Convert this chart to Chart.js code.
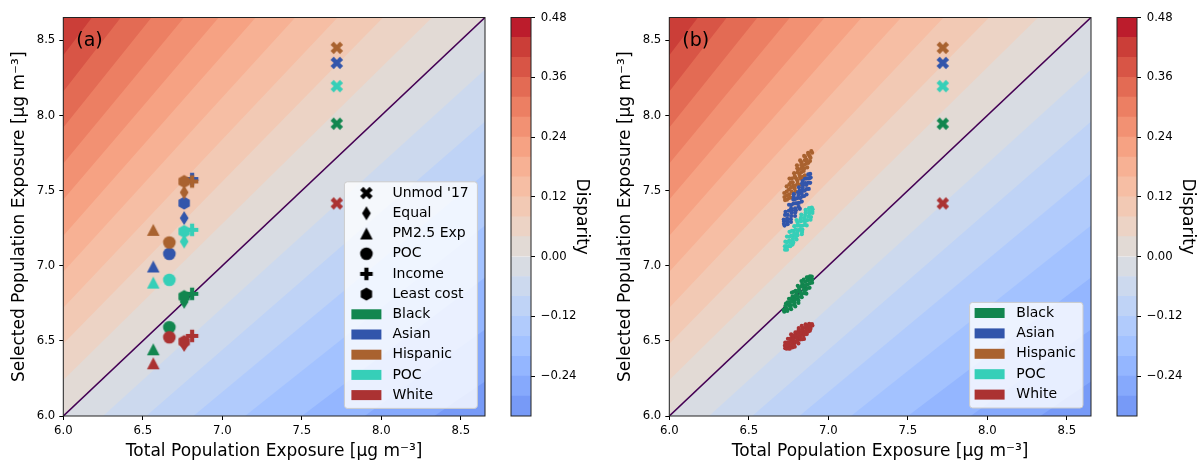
<!DOCTYPE html>
<html>
<head>
<meta charset="utf-8">
<title>Population exposure disparity</title>
<script src="https://cdn.jsdelivr.net/npm/chart.js@4.4.1/dist/chart.umd.min.js"></script>
<style>
  html, body { margin: 0; padding: 0; background: #fff; }
  .panel { position: absolute; top: 0; height: 464px; }
</style>
</head>
<body>
<div class="panel" style="left:0px;width:500px"><canvas id="scatter-a"></canvas></div>
<div class="panel" style="left:500px;width:92px"><canvas id="cbar-a"></canvas></div>
<div class="panel" style="left:606px;width:500px"><canvas id="scatter-b"></canvas></div>
<div class="panel" style="left:1106px;width:92px"><canvas id="cbar-b"></canvas></div>
<script>
// ---- data ----
const groups = ['Black', 'Asian', 'Hispanic', 'POC', 'White'];
const scenarios = ["Unmod '17", 'Equal', 'PM2.5 Exp', 'POC', 'Income', 'Least cost'];

// total population exposure per scenario (x axis), shared by all groups
const totalExposure = [7.72, 6.76, 6.566, 6.667, 6.81, 6.76];
// selected population exposure per scenario (y axis)
const selBlack    = [7.945, 6.76, 6.444, 6.591, 6.813, 6.795];
const selAsian    = [8.35, 7.317, 6.995, 7.079, 7.577, 7.417];
const selHispanic = [8.45, 7.488, 7.239, 7.155, 7.561, 7.561];
const selPOC      = [8.195, 7.161, 6.888, 6.906, 7.239, 7.228];
const selWhite    = [7.415, 6.473, 6.351, 6.524, 6.533, 6.495];

// panel (b) sample clouds
const cloudBlackX = [6.896,6.899,6.873,6.898,6.870,6.845,6.870,6.882,6.836,6.844,6.856,6.808,6.862,6.816,6.826,6.795,6.833,6.801,6.771,6.808,6.775,6.812,6.781,6.753,6.785,6.755,6.765,6.734,6.766,6.734,6.742,6.723,
  6.885,6.885,6.865,6.884,6.854,6.831,6.856,6.865,6.832,6.845,6.816,6.848,6.820,6.830,6.799,6.783,6.810,6.790,6.812,6.791,6.771,6.788,6.767,6.792,6.744,6.754,6.761,6.730,6.741,6.719];
const cloudBlackY = [6.928,6.910,6.923,6.887,6.902,6.907,6.875,6.853,6.878,6.861,6.839,6.866,6.814,6.839,6.820,6.833,6.791,6.808,6.821,6.779,6.794,6.752,6.769,6.780,6.742,6.755,6.736,6.748,6.711,6.721,6.699,6.694,
  6.929,6.906,6.922,6.883,6.892,6.898,6.867,6.847,6.862,6.840,6.855,6.818,6.828,6.809,6.822,6.827,6.793,6.798,6.768,6.777,6.782,6.756,6.761,6.729,6.756,6.737,6.719,6.732,6.708,6.706];
const cloudAsianX = [6.725,6.744,6.722,6.765,6.741,6.728,6.767,6.791,6.752,6.771,6.796,6.753,6.821,6.781,6.803,6.780,6.833,6.806,6.783,6.836,6.810,6.863,6.836,6.815,6.863,6.840,6.862,6.839,6.886,6.865,6.889,6.886,
  6.721,6.742,6.720,6.764,6.745,6.731,6.770,6.792,6.766,6.791,6.766,6.813,6.793,6.815,6.792,6.782,6.823,6.812,6.848,6.831,6.820,6.850,6.839,6.877,6.835,6.857,6.876,6.853,6.880,6.874];
const cloudAsianY = [7.267,7.276,7.296,7.291,7.313,7.338,7.331,7.331,7.366,7.370,7.370,7.406,7.379,7.414,7.415,7.441,7.427,7.450,7.476,7.461,7.489,7.474,7.498,7.522,7.510,7.536,7.538,7.564,7.552,7.581,7.587,7.611,
  7.279,7.295,7.307,7.310,7.338,7.359,7.352,7.354,7.381,7.382,7.404,7.392,7.416,7.418,7.444,7.459,7.450,7.470,7.464,7.482,7.502,7.499,7.519,7.511,7.548,7.550,7.553,7.579,7.583,7.608];
const cloudHispanicX = [6.728,6.724,6.753,6.723,6.754,6.781,6.752,6.738,6.788,6.779,6.764,6.817,6.756,6.806,6.794,6.827,6.785,6.819,6.852,6.810,6.845,6.803,6.837,6.867,6.831,6.864,6.852,6.885,6.848,6.883,6.873,6.893,
  6.740,6.739,6.762,6.738,6.770,6.795,6.766,6.755,6.791,6.776,6.807,6.771,6.801,6.789,6.822,6.840,6.808,6.830,6.805,6.828,6.849,6.830,6.851,6.823,6.875,6.864,6.855,6.888,6.875,6.898];
const cloudHispanicY = [7.437,7.457,7.450,7.484,7.475,7.478,7.507,7.528,7.514,7.532,7.553,7.537,7.580,7.565,7.585,7.580,7.616,7.606,7.601,7.638,7.631,7.668,7.658,7.654,7.688,7.683,7.702,7.697,7.731,7.729,7.752,7.763,
  7.439,7.466,7.454,7.493,7.493,7.493,7.521,7.541,7.534,7.555,7.547,7.580,7.577,7.596,7.591,7.591,7.621,7.622,7.649,7.645,7.647,7.671,7.672,7.701,7.685,7.705,7.723,7.718,7.742,7.752];
const cloudPOCX = [6.896,6.879,6.899,6.857,6.880,6.891,6.854,6.830,6.867,6.849,6.825,6.864,6.800,6.837,6.816,6.837,6.786,6.812,6.833,6.782,6.806,6.756,6.781,6.800,6.755,6.776,6.754,6.775,6.730,6.750,6.727,6.728,
  6.901,6.879,6.900,6.858,6.875,6.888,6.851,6.829,6.853,6.829,6.852,6.807,6.825,6.804,6.825,6.835,6.795,6.805,6.771,6.786,6.796,6.767,6.778,6.740,6.780,6.759,6.740,6.761,6.735,6.740];
const cloudPOCY = [7.387,7.383,7.361,7.372,7.348,7.324,7.337,7.341,7.303,7.303,7.307,7.268,7.304,7.266,7.268,7.241,7.263,7.237,7.210,7.232,7.203,7.226,7.200,7.175,7.193,7.166,7.168,7.141,7.160,7.130,7.129,7.107,
  7.376,7.366,7.351,7.355,7.327,7.306,7.319,7.321,7.292,7.296,7.272,7.290,7.265,7.267,7.240,7.225,7.240,7.221,7.232,7.213,7.194,7.201,7.181,7.194,7.155,7.157,7.157,7.130,7.131,7.107];
const cloudWhiteX = [6.729,6.727,6.750,6.729,6.754,6.776,6.755,6.746,6.785,6.780,6.770,6.812,6.766,6.805,6.798,6.824,6.793,6.820,6.847,6.816,6.845,6.814,6.841,6.865,6.838,6.865,6.857,6.884,6.857,6.885,6.880,6.897,
  6.738,6.740,6.758,6.742,6.769,6.789,6.768,6.761,6.790,6.780,6.805,6.778,6.802,6.795,6.822,6.836,6.813,6.831,6.813,6.831,6.850,6.835,6.854,6.833,6.875,6.867,6.862,6.888,6.880,6.900];
const cloudWhiteY = [6.451,6.468,6.450,6.488,6.467,6.457,6.492,6.514,6.480,6.497,6.520,6.483,6.543,6.509,6.529,6.509,6.556,6.533,6.513,6.560,6.538,6.585,6.562,6.545,6.587,6.567,6.587,6.568,6.610,6.592,6.614,6.612,
  6.448,6.468,6.448,6.488,6.473,6.461,6.495,6.515,6.493,6.516,6.494,6.536,6.520,6.539,6.520,6.511,6.548,6.539,6.571,6.557,6.548,6.575,6.565,6.600,6.563,6.583,6.601,6.581,6.605,6.602];

// axes, contour levels, colorbar ticks
const axisMin = 6.0, axisMax = 8.652;
const axisTicks = [6.0, 6.5, 7.0, 7.5, 8.0, 8.5];
const disparityLevels = [-0.32, -0.28, -0.24, -0.20, -0.16, -0.12, -0.08, -0.04, 0.00, 0.04,
  0.08, 0.12, 0.16, 0.20, 0.24, 0.28, 0.32, 0.36, 0.40, 0.44, 0.48];
const colorbarTicks = [-0.24, -0.12, 0.00, 0.12, 0.24, 0.36, 0.48];

// ---- styles ----
const groupColors = ['#12864f', '#3255ab', '#a9622f', '#36cfb8', '#ab3232'];
const scenarioShapes = ['x', 'diamond', 'triangle', 'circle', 'plus', 'hexagon'];
const normMin = -0.48, normMax = 0.48;

Chart.defaults.font.family = '"DejaVu Sans", sans-serif';
Chart.defaults.color = '#000';

// matplotlib coolwarm
const coolwarmStops = [[59,76,192],[68,90,204],[77,104,215],[87,117,225],[98,130,234],[108,142,241],
  [119,154,247],[130,165,251],[141,176,254],[152,185,255],[163,194,255],[174,201,253],[184,208,249],
  [194,213,244],[204,217,238],[213,219,230],[221,221,221],[229,216,209],[236,211,197],[241,204,184],
  [245,196,172],[247,187,160],[247,177,148],[247,166,135],[244,154,123],[241,141,111],[236,127,99],
  [229,112,88],[222,96,77],[213,80,66],[203,62,56],[192,40,47],[180,4,38]];

function coolwarm(t) {
  t = Math.min(1, Math.max(0, t));
  const f = t * 32, i = Math.min(31, Math.floor(f)), r = f - i;
  const a = coolwarmStops[i], b = coolwarmStops[i + 1];
  return 'rgb(' + a.map((v, k) => Math.round(v + (b[k] - v) * r)).join(',') + ')';
}
function bandColor(lo, hi) {
  return coolwarm(((lo + hi) / 2 - normMin) / (normMax - normMin));
}
function fmtSigned(v) {
  return (v < -1e-9 ? '\u2212' : '') + Math.abs(v).toFixed(2);
}

// marker glyphs, pixel units
const glyphs = {
  x: [[-3.1,-6.25],[0,-3.1],[3.1,-6.25],[6.25,-3.1],[3.1,0],[6.25,3.1],[3.1,6.25],[0,3.1],[-3.1,6.25],[-6.25,3.1],[-3.1,0],[-6.25,-3.1]],
  plus: [[-2.1,-6.25],[2.1,-6.25],[2.1,-2.1],[6.25,-2.1],[6.25,2.1],[2.1,2.1],[2.1,6.25],[-2.1,6.25],[-2.1,2.1],[-6.25,2.1],[-6.25,-2.1],[-2.1,-2.1]],
  triangle: [[0,-6],[6.3,6],[-6.3,6]],
  diamond: [[0,-7],[4.4,0],[0,7],[-4.4,0]],
  hexagon: [[0,-6.6],[5.7,-3.3],[5.7,3.3],[0,6.6],[-5.7,3.3],[-5.7,-3.3]]
};
function markerCanvas(shape, color) {
  const c = document.createElement('canvas');
  c.width = 18; c.height = 18;
  const g = c.getContext('2d');
  g.translate(9, 9);
  g.fillStyle = color;
  g.beginPath();
  if (shape === 'circle') {
    g.arc(0, 0, 6.3, 0, Math.PI * 2);
  } else {
    glyphs[shape].forEach(([px, py], i) => i ? g.lineTo(px, py) : g.moveTo(px, py));
    g.closePath();
  }
  g.fill();
  return c;
}

// ---- plugins ----
const contourBands = {
  id: 'contourBands',
  beforeDatasetsDraw(chart) {
    const {ctx, chartArea: a, scales: {x, y}} = chart;
    const x0 = x.min, x1 = x.max;
    ctx.save();
    ctx.beginPath();
    ctx.rect(a.left, a.top, a.width, a.height);
    ctx.clip();
    // paint each band from its lower level upward, so no seams show
    for (let i = 0; i < disparityLevels.length - 1; i++) {
      const lo = disparityLevels[i];
      ctx.beginPath();
      ctx.moveTo(x.getPixelForValue(x0), y.getPixelForValue(x0 * (1 + lo)));
      ctx.lineTo(x.getPixelForValue(x1), y.getPixelForValue(x1 * (1 + lo)));
      ctx.lineTo(a.right + 5, a.top - 5);
      ctx.lineTo(a.left - 5, a.top - 5);
      ctx.closePath();
      ctx.fillStyle = bandColor(lo, disparityLevels[i + 1]);
      ctx.fill();
    }
    ctx.restore();
  }
};

const frame = {
  id: 'frame',
  afterDatasetsDraw(chart) {
    const {ctx, chartArea: a} = chart;
    ctx.save();
    ctx.strokeStyle = '#222';
    ctx.lineWidth = 1;
    ctx.strokeRect(a.left, a.top, a.width, a.height);
    ctx.restore();
  }
};

function panelLabel(text) {
  return {
    id: 'panelLabel',
    afterDatasetsDraw(chart) {
      const {ctx, chartArea: a} = chart;
      ctx.save();
      ctx.font = '19px "DejaVu Sans"';
      ctx.fillStyle = '#000';
      ctx.textBaseline = 'alphabetic';
      ctx.fillText(text, a.left + 13, a.top + 28);
      ctx.restore();
    }
  };
}

// legend box in the lower right corner of the axes
function boxLegend(items, box) {
  return {
    id: 'boxLegend',
    afterDraw(chart) {
      const {ctx, chartArea: a} = chart;
      const right = a.right - box.inset, bottom = a.bottom - box.inset;
      const left = right - box.width, top = bottom - box.height;
      ctx.save();
      ctx.beginPath();
      ctx.roundRect(left, top, box.width, box.height, 3);
      ctx.fillStyle = 'rgba(255,255,255,0.8)';
      ctx.fill();
      ctx.strokeStyle = '#cccccc';
      ctx.lineWidth = 1;
      ctx.stroke();
      ctx.font = '14px "DejaVu Sans"';
      ctx.textBaseline = 'middle';
      items.forEach((item, i) => {
        const cy = top + box.firstRow + i * box.rowGap;
        const cx = left + box.handleX;
        if (item.marker) {
          ctx.drawImage(item.marker, cx - item.marker.width / 2, cy - item.marker.height / 2);
        } else {
          ctx.fillStyle = item.color;
          ctx.fillRect(cx - 15, cy - 5, 30, 10);
        }
        ctx.fillStyle = '#000';
        ctx.fillText(item.text, left + box.textX, cy);
      });
      ctx.restore();
    }
  };
}

// ---- charts ----
const tickFont = {size: 11.7};
const titleFont = {size: 17};

function scatterOptions() {
  const tickAxis = {
    type: 'linear',
    min: axisMin,
    max: axisMax,
    afterBuildTicks: s => { s.ticks = axisTicks.map(v => ({value: v})); },
    grid: {drawOnChartArea: false, tickLength: 4, color: '#000'},
    border: {display: false}
  };
  return {
    responsive: true,
    maintainAspectRatio: false,
    animation: false,
    events: [],
    layout: {padding: {top: 17.5, right: 15, left: 0, bottom: 0}},
    plugins: {legend: {display: false}, tooltip: {enabled: false}},
    scales: {
      x: {
        ...tickAxis,
        ticks: {callback: v => v.toFixed(1), font: tickFont, padding: 3.5, maxRotation: 0, autoSkip: false},
        title: {display: true, text: 'Total Population Exposure [\u03bcg m\u207b\u00b3]', font: titleFont, padding: {top: 0, bottom: 2.3}},
        afterFit: s => { s.height = 48; }
      },
      y: {
        ...tickAxis,
        ticks: {callback: v => v.toFixed(1), font: tickFont, padding: 4, autoSkip: false},
        title: {display: true, text: 'Selected Population Exposure [\u03bcg m\u207b\u00b3]', font: titleFont, padding: {top: 9.3, bottom: 0}},
        afterFit: s => { s.width = 63.3; }
      }
    }
  };
}

const identityLine = {
  type: 'line',
  data: [axisMin, axisMax].map(v => ({x: v, y: v})),
  showLine: true,
  borderColor: '#440154',
  borderWidth: 1.6,
  pointRadius: 0,
  order: 100
};

const groupSeries = [selBlack, selAsian, selHispanic, selPOC, selWhite];

// panel (a): every scenario marker for every group
const datasetsA = groups.map((g, gi) => ({
  label: g,
  data: totalExposure.map((x, i) => ({x: x, y: groupSeries[gi][i]})),
  pointStyle: scenarioShapes.map(s => markerCanvas(s, groupColors[gi])),
  pointRadius: 6,
  order: groups.length - gi
}));
datasetsA.push({...identityLine});

// panel (b): sample clouds plus the unmodified markers
const clouds = {
  Black: [cloudBlackX, cloudBlackY],
  Asian: [cloudAsianX, cloudAsianY],
  Hispanic: [cloudHispanicX, cloudHispanicY],
  POC: [cloudPOCX, cloudPOCY],
  White: [cloudWhiteX, cloudWhiteY]
};
const cloudDrawOrder = ['Hispanic', 'Asian', 'POC', 'Black', 'White'];
const datasetsB = cloudDrawOrder.map((g, k) => {
  const gi = groups.indexOf(g);
  const [xs, ys] = clouds[g];
  return {
    label: g,
    data: xs.map((x, i) => ({x: x, y: ys[i]})),
    pointStyle: 'circle',
    pointRadius: 2.1,
    borderWidth: 0,
    backgroundColor: groupColors[gi],
    order: 50 - k
  };
});
groups.forEach((g, gi) => {
  datasetsB.push({
    label: g + " unmod",
    data: [{x: totalExposure[0], y: groupSeries[gi][0]}],
    pointStyle: markerCanvas('x', groupColors[gi]),
    pointRadius: 6,
    order: 10 - gi
  });
});
datasetsB.push({...identityLine});

const legendItemsA = scenarios.map((s, i) => ({text: s, marker: markerCanvas(scenarioShapes[i], '#000')}))
  .concat(groups.map((g, gi) => ({text: g, color: groupColors[gi]})));
const legendItemsB = groups.map((g, gi) => ({text: g, color: groupColors[gi]}));

new Chart(document.getElementById('scatter-a'), {
  type: 'scatter',
  data: {datasets: datasetsA},
  options: scatterOptions(),
  plugins: [contourBands, frame, panelLabel('(a)'),
    boxLegend(legendItemsA, {inset: 7.6, width: 133, height: 226.6, firstRow: 11.3, rowGap: 20.2, handleX: 22, textX: 48})]
});

new Chart(document.getElementById('scatter-b'), {
  type: 'scatter',
  data: {datasets: datasetsB},
  options: scatterOptions(),
  plugins: [contourBands, frame, panelLabel('(b)'),
    boxLegend(legendItemsB, {inset: 8, width: 113.4, height: 105.6, firstRow: 10.6, rowGap: 20.4, handleX: 20, textX: 46.7})]
});

function colorbarChart(canvasId) {
  const bands = disparityLevels.slice(0, -1).map((lo, i) => [lo, disparityLevels[i + 1]]);
  return new Chart(document.getElementById(canvasId), {
    type: 'bar',
    data: {
      labels: ['Disparity'],
      datasets: bands.map(b => ({
        data: [b],
        backgroundColor: bandColor(b[0], b[1]),
        borderWidth: 0,
        barPercentage: 1,
        categoryPercentage: 1
      }))
    },
    options: {
      responsive: true,
      maintainAspectRatio: false,
      animation: false,
      events: [],
      layout: {padding: {left: 11, top: 17.5, bottom: 48, right: 0}},
      plugins: {legend: {display: false}, tooltip: {enabled: false}},
      scales: {
        x: {display: false, stacked: true},
        y: {
          position: 'right',
          min: disparityLevels[0],
          max: disparityLevels[disparityLevels.length - 1],
          afterBuildTicks: s => { s.ticks = colorbarTicks.map(v => ({value: v})); },
          ticks: {callback: fmtSigned, font: tickFont, padding: 5.7, autoSkip: false},
          grid: {drawOnChartArea: false, tickLength: 4, color: '#000'},
          border: {display: false},
          title: {display: true, text: 'Disparity', font: titleFont, padding: {top: 0.4, bottom: 0}},
          afterFit: s => { s.width = 61; }
        }
      }
    },
    plugins: [frame]
  });
}
colorbarChart('cbar-a');
colorbarChart('cbar-b');
</script>
</body>
</html>
